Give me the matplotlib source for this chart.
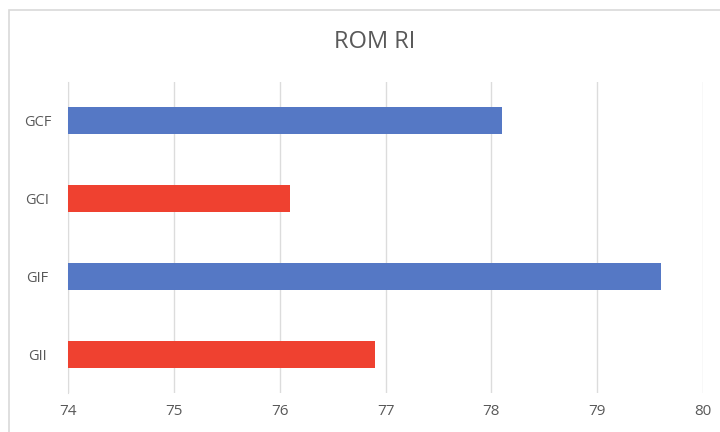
import numpy as np
import matplotlib.pyplot as plt
from matplotlib.patches import Rectangle

# data (top to bottom)
categories = ['GCF', 'GCI', 'GIF', 'GII']
values = [78.1, 76.1, 79.6, 76.9]
colors = ['#5578c5', '#ef4130', '#5578c5', '#ef4130']

plt.rcParams['font.family'] = ['Open Sans', 'DejaVu Sans']

fig = plt.figure(figsize=(7.2, 4.32), dpi=100)
ax = fig.add_axes([68/720, 39/432, 635/720, 311/432])

xmin = 74
y = np.arange(len(categories))
ax.barh(y, np.array(values) - xmin, left=xmin, height=0.35, color=colors, zorder=3)

ax.set_xlim(74, 80)
ax.set_ylim(len(categories) - 0.5, -0.5)
ax.set_xticks(np.arange(74, 81, 1))
ax.set_yticks(y)
ax.set_yticklabels(categories)

ax.grid(axis='x', color='#dcdcdc', linewidth=1, zorder=0)
for s in ['top', 'right', 'bottom']:
    ax.spines[s].set_visible(False)
ax.spines['left'].set_color('#dcdcdc')

ax.tick_params(axis='x', length=0, pad=8, labelsize=11, colors='#595959')
ax.tick_params(axis='y', length=0, pad=22, labelsize=10.5, colors='#595959')
for lbl in ax.get_yticklabels():
    lbl.set_horizontalalignment('center')

fig.text(375/720, 1 - 42/432, 'ROM RI', ha='center', va='center',
         fontsize=17, color='#595959')

# chart border
fig.patches.append(Rectangle((9/720, -0.1), 1.1, 1 - 10/432 + 0.1,
                             transform=fig.transFigure, fill=False,
                             edgecolor='#d9d9d9', linewidth=1.2))

fig.savefig('out.png', dpi=100)
